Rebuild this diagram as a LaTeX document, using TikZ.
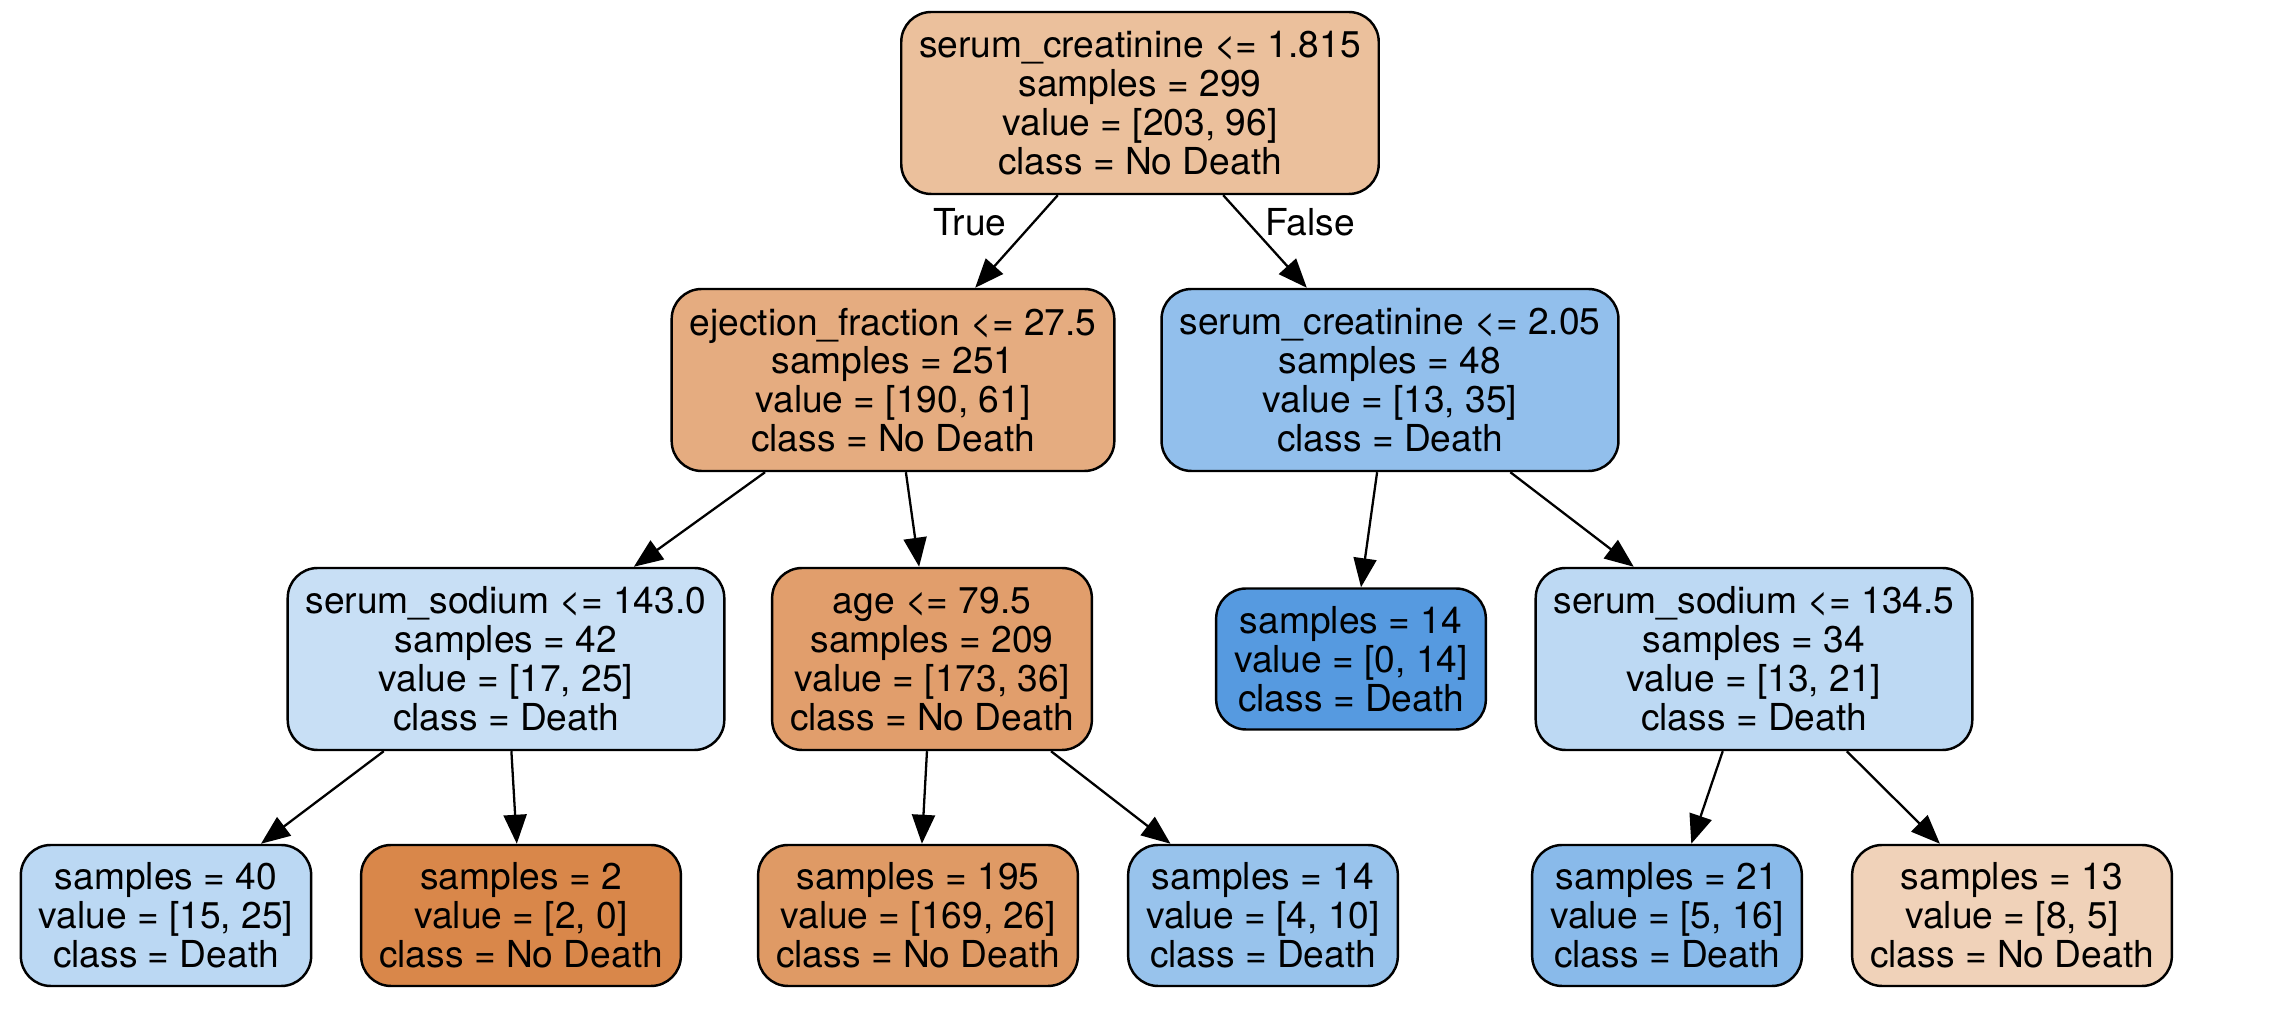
\documentclass[tikz,border=0pt]{standalone}
\usepackage{fontspec}
\setmainfont{TeX Gyre Heros}
\usetikzlibrary{arrows.meta}

\definecolor{rootc}{RGB}{235,192,156}
\definecolor{ejc}{RGB}{229,172,128}
\definecolor{scc}{RGB}{146,191,236}
\definecolor{ssac}{RGB}{200,223,245}
\definecolor{agec}{RGB}{225,158,108}
\definecolor{pureb}{RGB}{86,154,224}
\definecolor{ssbc}{RGB}{189,217,243}
\definecolor{fortyc}{RGB}{187,216,243}
\definecolor{pureo}{RGB}{217,135,74}
\definecolor{onenfc}{RGB}{223,154,101}
\definecolor{fourtc}{RGB}{152,195,236}
\definecolor{twoonec}{RGB}{137,186,234}
\definecolor{thirtc}{RGB}{240,210,185}

\tikzset{
    tnode/.style={draw, line width=0.7pt, rounded corners=0.3cm, align=center,
        inner xsep=0.18cm, inner ysep=0pt,
        font=\fontsize{10.57pt}{11.06pt}\selectfont},
    split/.style={tnode, minimum height=1.82cm},
    leaf/.style={tnode, minimum height=1.41cm},
    edge/.style={line width=0.65pt, -{Triangle[length=0.29cm,width=0.23cm]}},
    elabel/.style={font=\fontsize{10.57pt}{11.06pt}\selectfont}
}

\begin{document}
\begin{tikzpicture}
    \useasboundingbox (0,0) rectangle (22.88,-10.14);

    % top split
    \node[split, fill=rootc] (root) at (11.40,-1.03)
        {serum\_creatinine <= 1.815\\samples = 299\\value = [203, 96]\\class = No Death};

    % second level
    \node[split, fill=ejc] (ej) at (8.93,-3.80)
        {ejection\_fraction <= 27.5\\samples = 251\\value = [190, 61]\\class = No Death};
    \node[split, fill=scc] (sc) at (13.90,-3.80)
        {serum\_creatinine <= 2.05\\samples = 48\\value = [13, 35]\\class = Death};

    % third level
    \node[split, fill=ssac] (ssa) at (5.06,-6.59)
        {serum\_sodium <= 143.0\\samples = 42\\value = [17, 25]\\class = Death};
    \node[split, fill=agec] (age) at (9.32,-6.59)
        {age <= 79.5\\samples = 209\\value = [173, 36]\\class = No Death};
    \node[leaf, fill=pureb] (lfourteen) at (13.51,-6.59)
        {samples = 14\\value = [0, 14]\\class = Death};
    \node[split, fill=ssbc] (ssb) at (17.54,-6.59)
        {serum\_sodium <= 134.5\\samples = 34\\value = [13, 21]\\class = Death};

    % leaves
    \node[leaf, fill=fortyc] (lforty) at (1.66,-9.155)
        {samples = 40\\value = [15, 25]\\class = Death};
    \node[leaf, fill=pureo] (ltwo) at (5.21,-9.155)
        {samples = 2\\value = [2, 0]\\class = No Death};
    \node[leaf, fill=onenfc] (lonenf) at (9.18,-9.155)
        {samples = 195\\value = [169, 26]\\class = No Death};
    \node[leaf, fill=fourtc] (lfourtb) at (12.63,-9.155)
        {samples = 14\\value = [4, 10]\\class = Death};
    \node[leaf, fill=twoonec] (ltwoone) at (16.67,-9.155)
        {samples = 21\\value = [5, 16]\\class = Death};
    \node[leaf, fill=thirtc] (lthirt) at (20.12,-9.155)
        {samples = 13\\value = [8, 5]\\class = No Death};

    % edges
    \draw[edge] (root) -- (ej);
    \draw[edge] (root) -- (sc);
    \draw[edge] (ej) -- (ssa);
    \draw[edge] (ej) -- (age);
    \draw[edge] (sc) -- (lfourteen);
    \draw[edge] (sc) -- (ssb);
    \draw[edge] (ssa) -- (lforty);
    \draw[edge] (ssa) -- (ltwo);
    \draw[edge] (age) -- (lonenf);
    \draw[edge] (age) -- (lfourtb);
    \draw[edge] (ssb) -- (ltwoone);
    \draw[edge] (ssb) -- (lthirt);

    \node[elabel] (truelbl) at (9.70,-2.22) {True};
    \node[elabel] (falselbl) at (13.10,-2.22) {False};
\end{tikzpicture}
\end{document}
